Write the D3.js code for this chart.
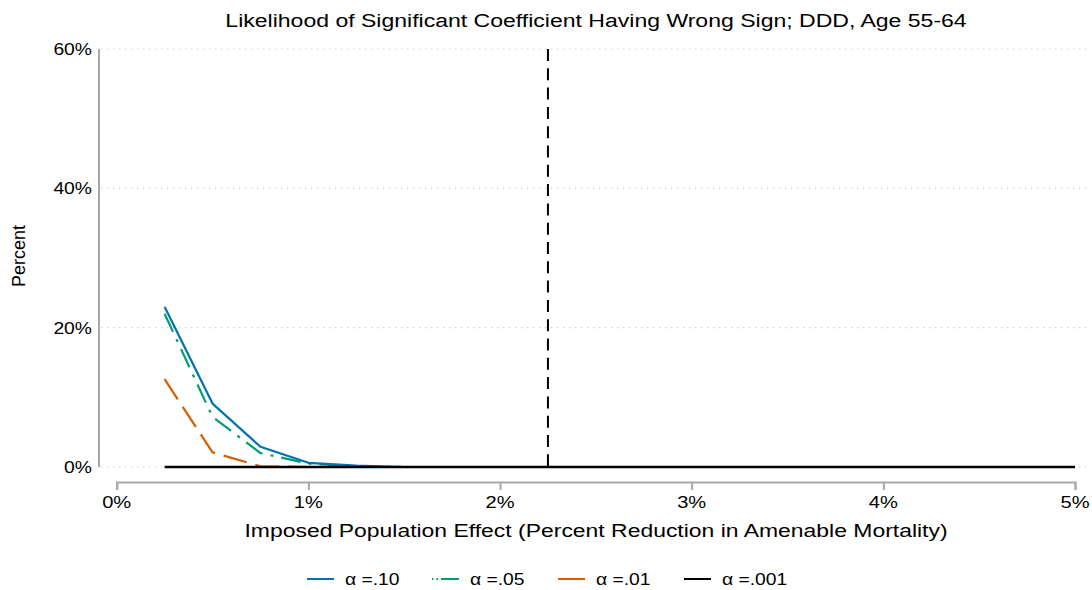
<!DOCTYPE html>
<html>
<head>
<meta charset="utf-8">
<script src="https://cdn.jsdelivr.net/npm/d3@7"></script>
<style>
  body { margin: 0; background: #fff; }
  svg { display: block; }
  text { font-family: "Liberation Sans", Arial, Helvetica, sans-serif; fill: #000; }
</style>
</head>
<body>
<svg id="chart" width="1092" height="590"></svg>
<script>
// Imposed population effect (% reduction in amenable mortality)
const effects = [0.25, 0.5, 0.75, 1.0, 1.25, 1.5, 1.75, 2.0, 2.25, 2.5, 2.75, 3.0, 3.25, 3.5, 3.75, 4.0, 4.25, 4.5, 4.75, 5.0];
// Likelihood (%) that a significant coefficient has the wrong sign, by significance level
const alpha10  = [23.0, 9.1, 2.9, 0.6, 0.2, 0, 0, 0, 0, 0, 0, 0, 0, 0, 0, 0, 0, 0, 0, 0];
const alpha05  = [22.0, 7.2, 2.0, 0.5, 0.1, 0, 0, 0, 0, 0, 0, 0, 0, 0, 0, 0, 0, 0, 0, 0];
const alpha01  = [12.6, 2.1, 0.1, 0, 0, 0, 0, 0, 0, 0, 0, 0, 0, 0, 0, 0, 0, 0, 0, 0];
const alpha001 = [0, 0, 0, 0, 0, 0, 0, 0, 0, 0, 0, 0, 0, 0, 0, 0, 0, 0, 0, 0];
const seriesLabels = ["α =.10", "α =.05", "α =.01", "α =.001"];
const xTicks = [0, 1, 2, 3, 4, 5];
const yTicks = [0, 20, 40, 60];
const referenceEffect = 2.25;

const title = "Likelihood of Significant Coefficient Having Wrong Sign; DDD, Age 55-64";
const xTitle = "Imposed Population Effect (Percent Reduction in Amenable Mortality)";
const yTitle = "Percent";

const svg = d3.select("#chart");

const x = d3.scaleLinear().domain([0, 5]).range([116.7, 1075]);
const y = d3.scaleLinear().domain([0, 60]).range([467, 49]);

// Text drawn slightly widened horizontally (wide Helvetica-style lettering)
function stretchedText(sel, px, py, str, size, anchor, sx) {
  return sel.append("text")
    .attr("transform", `translate(${px},${py}) scale(${sx},1)`)
    .attr("text-anchor", anchor)
    .style("font-size", size + "px")
    .text(str);
}

// Dotted horizontal grid
svg.append("g").selectAll("line").data(yTicks).join("line")
  .attr("x1", 101).attr("x2", 1090)
  .attr("y1", d => y(d)).attr("y2", d => y(d))
  .attr("stroke", "#c8c8c8").attr("stroke-width", 1.2)
  .attr("stroke-dasharray", "1.2,4.8");

// Y axis line and labels
svg.append("line").attr("x1", 99).attr("x2", 99)
  .attr("y1", y(60)).attr("y2", y(0))
  .attr("stroke", "#a8a8a8").attr("stroke-width", 2);
yTicks.forEach(t => stretchedText(svg, 92, y(t) + 6, t + "%", 16.5, "end", 1.17));

// X axis (offset below plot area)
const xAxisY = 482;
const xAxis = d3.axisBottom(x).tickValues(xTicks).tickSizeOuter(0).tickSize(8).tickFormat(() => "");
const gx = svg.append("g").attr("transform", `translate(0,${xAxisY})`).call(xAxis);
gx.select(".domain").attr("stroke", "#a8a8a8").attr("stroke-width", 2);
gx.selectAll(".tick line").attr("stroke", "#a8a8a8").attr("stroke-width", 2);
xTicks.forEach(t => stretchedText(svg, x(t), 508, t + "%", 16.5, "middle", 1.22));

// Titles
stretchedText(svg, 596, 27, title, 18, "middle", 1.28);
stretchedText(svg, 596, 537, xTitle, 18.5, "middle", 1.24);
svg.append("text")
  .attr("transform", "translate(25,256) rotate(-90)")
  .attr("text-anchor", "middle")
  .style("font-size", "18px")
  .text(yTitle);

// Series
const series = [
  { values: alpha10,  color: "#0072B2", dash: null,        width: 2.2 },
  { values: alpha05,  color: "#009E73", dash: "20,8,3,8",  width: 2.2 },
  { values: alpha01,  color: "#D55E00", dash: "24,9",      width: 2.2 },
  { values: alpha001, color: "#000000", dash: null,        width: 2.6 }
];
const line = d3.line().x(d => x(d[0])).y(d => y(d[1]));

// Draw lowest-significance first so the solid black baseline sits on top
[1, 2, 0, 3].forEach(i => {
  const s = series[i];
  svg.append("path")
    .datum(effects.map((e, k) => [e, s.values[k]]))
    .attr("d", line)
    .attr("fill", "none")
    .attr("stroke", s.color)
    .attr("stroke-width", s.width)
    .attr("stroke-linejoin", "round")
    .attr("stroke-dasharray", s.dash);
});

// Vertical reference line
svg.append("line")
  .attr("x1", x(referenceEffect)).attr("x2", x(referenceEffect))
  .attr("y1", y(60)).attr("y2", y(0))
  .attr("stroke", "#000").attr("stroke-width", 2)
  .attr("stroke-dasharray", "12,7.3");

// Legend
const legendY = 580;
const legendX = [307, 432, 558, 684];
series.forEach((s, i) => {
  svg.append("line")
    .attr("x1", legendX[i]).attr("x2", legendX[i] + 27)
    .attr("y1", legendY - 1).attr("y2", legendY - 1)
    .attr("stroke", s.color).attr("stroke-width", 2)
    .attr("stroke-dasharray", i === 1 ? "1.5,3,1.5,3,18" : null);
  stretchedText(svg, legendX[i] + 38, legendY + 5, seriesLabels[i], 16.5, "start", 1.17);
});
</script>
</body>
</html>
